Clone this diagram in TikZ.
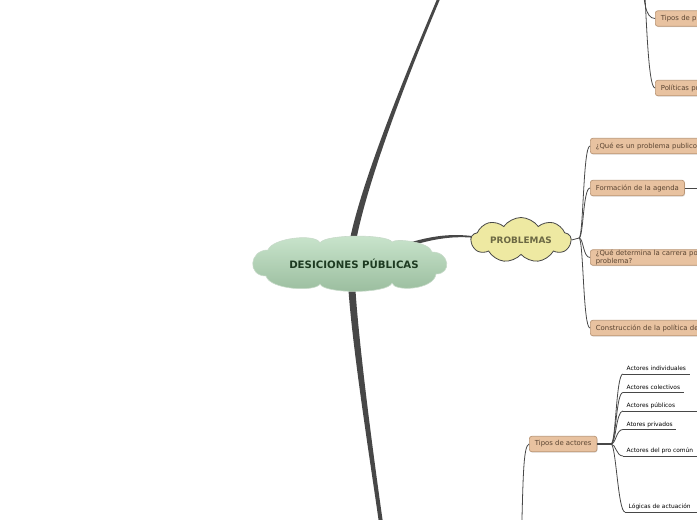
\documentclass[tikz,border=0pt]{standalone}
\usepackage{fontspec}
\newfontfamily\mapfont{DejaVu Sans}
\usetikzlibrary{shapes.symbols,shadows}
\definecolor{mapInk}{HTML}{474747}
\definecolor{mapBox}{HTML}{E8C2A0}
\definecolor{mapBoxLine}{HTML}{BA9676}
\definecolor{mapBoxText}{HTML}{5A4431}
\definecolor{mapMintTop}{HTML}{CBE6CE}
\definecolor{mapMintBot}{HTML}{99BC9D}
\definecolor{mapMintText}{HTML}{1E3B22}
\definecolor{mapSand}{HTML}{EEE9A2}
\definecolor{mapSandText}{HTML}{6B6843}
\tikzset{
  every picture/.style={font=\mapfont, text=mapInk},
  map core shape/.style={top color=mapMintTop, bottom color=mapMintBot,
    draw=mapMintBot!55!white, line width=0.6pt},
  map core/.style={text=mapMintText, inner sep=0pt,
    font=\mapfont\bfseries\fontsize{10.2}{12}\selectfont},
  map topic/.style={cloud, cloud puffs=9, cloud puff arc=110, cloud ignores aspect,
    minimum width=100pt, minimum height=45pt, inner sep=0pt,
    fill=mapSand, draw=mapInk, line width=0.8pt,
    text=mapSandText, font=\mapfont\bfseries\fontsize{8.9}{10}\selectfont},
  map box/.style={draw=mapBoxLine, line width=0.7pt, rounded corners=2.5pt,
    fill=mapBox, text=mapBoxText, font=\mapfont\fontsize{6.9}{8.6}\selectfont,
    inner xsep=5.5pt, inner ysep=0pt, minimum height=15.5pt, anchor=west, align=left,
    drop shadow={shadow xshift=0.6pt, shadow yshift=-0.9pt, opacity=0.25}},
  map leaf/.style={anchor=south west, inner xsep=3.5pt, inner ysep=1.5pt,
    text height=4.4pt, text depth=1.5pt, text=black,
    font=\mapfont\fontsize{5.9}{7}\selectfont},
  map branch/.style={fill=mapInk},
  map link/.style={draw=mapInk, line width=0.8pt},
  map stem/.style={draw=mapInk, line width=2pt}
}
\begin{document}
\begin{tikzpicture}[x=1pt,y=-1pt]
  \useasboundingbox (0,0) rectangle (697,520);
  \clip (0,0) rectangle (697,520);
  % main branches, under the central cloud
  \fill[map branch] (349,244) .. controls (359,190) and (398.5,90) .. (437.5,-2)
    -- (440.5,-2) .. controls (401.5,90) and (365,190) .. (355.5,244) -- cycle;
  \fill[map branch] (348,282) .. controls (351,340) and (370,460) .. (379,523)
    -- (383,523) .. controls (374,460) and (358,340) .. (355,282) -- cycle;
  \fill[map branch] (408,243) .. controls (430,236.5) and (450,233) .. (474,236.3)
    -- (474,237.8) .. controls (450,235.5) and (430,240) .. (408,246.5) -- cycle;

  % central cloud
  \path[map core shape] (266,276) .. controls (247,276) and (249,250) .. (268,250)
    .. controls (272,238) and (316,233) .. (320,243)
    .. controls (324,234) and (388,234) .. (392,242)
    .. controls (396,238) and (430,242) .. (432,252)
    .. controls (450,252) and (452,274) .. (436,274)
    .. controls (434,290) and (394,292) .. (392,283)
    .. controls (388,294) and (324,294) .. (320,284)
    .. controls (316,292) and (270,290) .. cycle;
  \node[map core] (core) at (354,264) {DESICIONES PÚBLICAS};
  \node[map topic] (prob) at (521,240) {PROBLEMAS};

  % problemas
  \coordinate (pfork) at (579,238);
  \node[map box, text width=112pt] (qpub) at (590,146) {¿Qué es un problema publico};
  \node[map box] (agenda) at (590,188) {Formación de la agenda};
  \node[map box, text width=112pt] (carrera) at (590,257.5) {¿Qué determina la carrera po\\problema?};
  \node[map box, text width=112pt] (constr) at (590,328) {Construcción de la política de};
  \coordinate (agendaout) at (710,188);
  \draw[map link] (prob.east) -- (pfork);
  \foreach \kid in {qpub,agenda,carrera,constr}
    \draw[map link] (pfork) .. controls +(4.5,0) and +(-7,0) .. (\kid.west);
  \draw[map link] (agenda.east) -- (agendaout);

  % upper right
  \coordinate (proot) at (643,-30);
  \node[map box, text width=60pt] (tpol) at (655,18.5) {Tipos de p};
  \node[map box, text width=60pt] (ppol) at (655,88) {Políticas pu};
  \draw[map link] (proot) .. controls (643,0) and (645,18.5) .. (tpol.west);
  \draw[map link] (proot) .. controls (646,-10) and (647,88) .. (ppol.west);

  % actores
  \coordinate (aroot) at (521,560);
  \node[map box] (tact) at (529,444) {Tipos de actores};
  \coordinate (afork) at (611,444);
  \draw[map link] (aroot) .. controls (523,480) and (523,446) .. (tact.west);
  \draw[map stem] (tact.east) -- (afork);
  \node[map leaf] (indiv) at (623,374) {Actores individuales};
  \node[map leaf] (colec) at (623,392.5) {Actores colectivos};
  \node[map leaf] (publ) at (623,411) {Actores públicos};
  \node[map leaf] (priv) at (623,429.5) {Atores privados};
  \node[map leaf] (comun) at (623,456) {Actores del pro común};
  \node[map leaf] (logic) at (625,512) {Lógicas de actuación};
  \foreach \kid in {indiv,colec,publ,priv,comun,logic}
    \draw[map link] (afork) .. controls +(5,0) and +(-7,0) .. (\kid.south west);
  \foreach \kid in {indiv,colec,priv}
    \draw[map link] (\kid.south west) -- (\kid.south east);
  \foreach \kid in {publ,comun,logic}
    \draw[map link] (\kid.south west) -- ++(90,0);
\end{tikzpicture}
\end{document}
